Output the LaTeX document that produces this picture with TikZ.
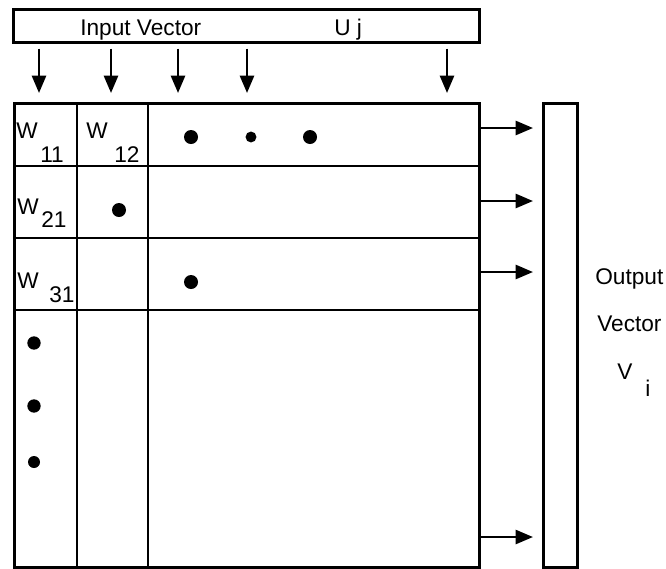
\documentclass[tikz,border=0pt]{standalone}
\usepackage{fontspec}
\setmainfont{Liberation Sans}
\usetikzlibrary{arrows.meta}

\tikzset{
  box/.style={draw, line width=1.9pt, rectangle, inner sep=0pt, anchor=north west},
  grid/.style={line width=1.9pt},
  inarr/.style={line width=1.9pt, -{Triangle[length=13pt,width=10.5pt]}, shorten <=3.75pt, shorten >=6.75pt},
  outarr/.style={line width=1.9pt, -{Triangle[length=13pt,width=10.5pt]}, shorten >=6.75pt},
  lab/.style={anchor=base west, inner sep=0pt, font=\fontsize{17}{20}\selectfont},
  wlab/.style={anchor=base west, inner sep=0pt, font=\fontsize{17}{20}\selectfont},
  bigdot/.style={fill=black},
}

\begin{document}
\begin{tikzpicture}[x=0.75pt,y=-0.75pt]
\useasboundingbox (0,0) rectangle (666,568);

% boxes
\node[box, minimum width=349.5pt, minimum height=24.75pt] (input) at (12,8) {};
\node[box, minimum width=348.75pt, minimum height=348pt] (wmat) at (13,102) {};
\node[box, minimum width=25.5pt, minimum height=348pt] (outvec) at (542,102) {};

% columns and rows of the weight matrix
\foreach \x in {77,148}{
\draw[grid] (\x,0 |- wmat.north) -- (\x,0 |- wmat.south);
}
\foreach \y in {166,238,310}{
\draw[grid] (wmat.west |- 0,\y) -- (wmat.east |- 0,\y);
}

% input arrows
\foreach \x in {39,111,178,247,447}{
\draw[inarr] (\x,0 |- input.south) -- (\x,0 |- wmat.north);
}
% output arrows
\foreach \y in {128,201,272,537}{
\draw[outarr] (wmat.east |- 0,\y) -- (outvec.west |- 0,\y);
}

\node[lab] (intext) at (80,35) {Input Vector};
\node[lab] (uj) at (334,35) {U j};

\node[wlab] (w11) at (16,138) {W};
\node[wlab] (w11s) at (40,162) {11};
\node[wlab] (w12) at (86,138) {W};
\node[wlab] (w12s) at (114,162) {12};
\node[wlab] (w21) at (17,214) {W};
\node[wlab] (w21s) at (41,227) {21};
\node[wlab] (w31) at (17,288) {W};
\node[wlab] (w31s) at (49,302) {31};

% dots
\fill[bigdot] (191,137) circle (5.25pt);
\fill[bigdot] (251,137) circle (4.1pt);
\fill[bigdot] (310,137) circle (5.25pt);
\fill[bigdot] (119,210) circle (5.25pt);
\fill[bigdot] (191,282) circle (5.25pt);
\fill[bigdot] (34,343) circle (5pt);
\fill[bigdot] (34,406) circle (5pt);
\fill[bigdot] (34,462) circle (4.5pt);

\node[lab] (outtext) at (595,284) {Output};
\node[lab] (vectext) at (597,331) {Vector};
\node[lab] (vi) at (617,379) {V};
\node[lab] (vis) at (645,396) {i};
\end{tikzpicture}
\end{document}
